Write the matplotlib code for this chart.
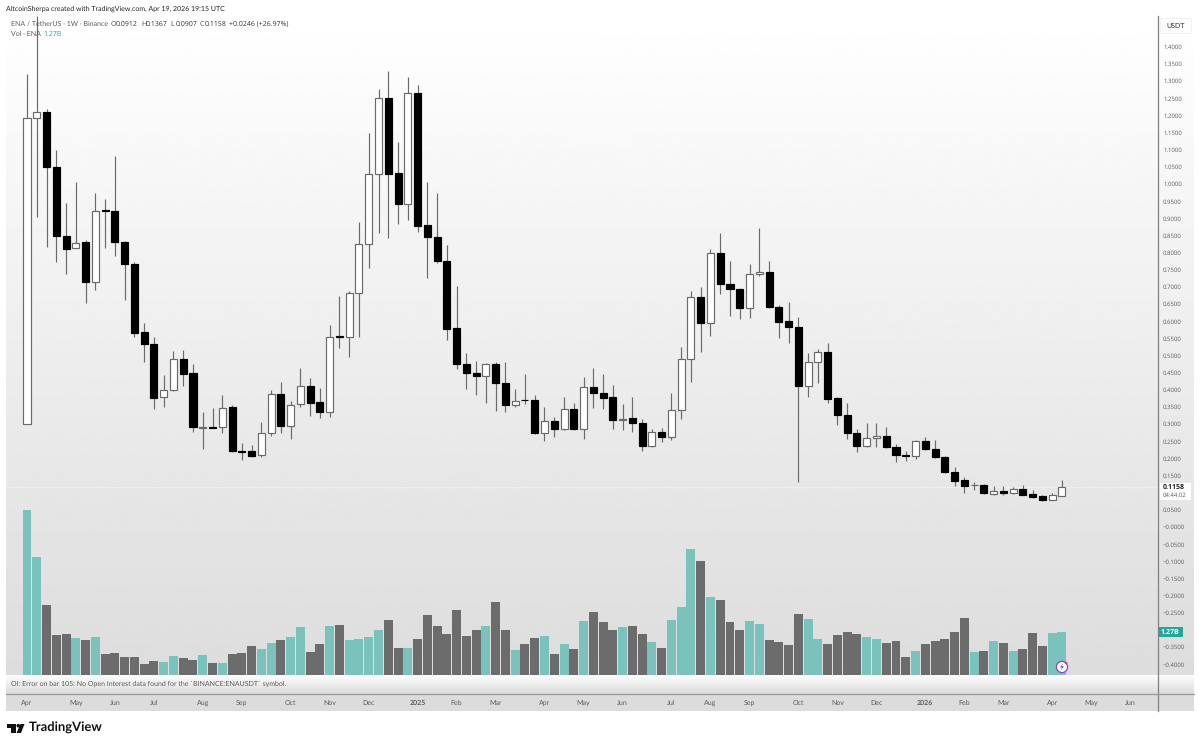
import numpy as np
import matplotlib
matplotlib.use('Agg')
import matplotlib.pyplot as plt
from matplotlib.patches import Polygon, Circle, Rectangle

plt.rcParams['font.family'] = ['Lato', 'DejaVu Sans']
plt.rcParams['text.hinting'] = 'no_hinting'
plt.rcParams['text.hinting_factor'] = 1

# weekly ENA / USDT candles
opens = [0.300, 1.192, 1.210, 1.050, 0.848, 0.813, 0.831, 0.714, 0.923, 0.921,
         0.831, 0.767, 0.569, 0.534, 0.379, 0.399, 0.490, 0.449, 0.290, 0.292,
         0.292, 0.350, 0.222, 0.222, 0.210, 0.274, 0.388, 0.294, 0.359, 0.411,
         0.364, 0.335, 0.556, 0.554, 0.682, 0.825, 1.029, 1.251, 1.032, 0.942,
         1.265, 0.880, 0.845, 0.776, 0.580, 0.475, 0.449, 0.440, 0.475, 0.420,
         0.356, 0.371, 0.370, 0.274, 0.309, 0.286, 0.344, 0.286, 0.408, 0.391,
         0.379, 0.312, 0.318, 0.303, 0.236, 0.277, 0.262, 0.341, 0.490, 0.671,
         0.595, 0.799, 0.708, 0.694, 0.638, 0.738, 0.743, 0.641, 0.600, 0.583,
         0.411, 0.481, 0.510, 0.376, 0.327, 0.274, 0.236, 0.259, 0.265, 0.233,
         0.210, 0.207, 0.251, 0.227, 0.204, 0.160, 0.137, 0.122, 0.122, 0.096,
         0.105, 0.099, 0.111, 0.096, 0.090, 0.079, 0.0912]
highs = [1.320, 1.490, 1.219, 1.100, 0.945, 1.006, 0.837, 0.974, 0.956, 1.082,
         0.835, 0.773, 0.595, 0.554, 0.443, 0.513, 0.516, 0.475, 0.335, 0.347,
         0.385, 0.356, 0.245, 0.239, 0.306, 0.399, 0.423, 0.367, 0.464, 0.434,
         0.405, 0.589, 0.673, 0.688, 0.889, 1.149, 1.277, 1.329, 1.122, 1.312,
         1.289, 1.006, 0.974, 0.822, 0.703, 0.507, 0.484, 0.478, 0.481, 0.481,
         0.402, 0.446, 0.385, 0.350, 0.321, 0.379, 0.362, 0.437, 0.464, 0.446,
         0.414, 0.359, 0.379, 0.315, 0.286, 0.289, 0.391, 0.525, 0.688, 0.700,
         0.810, 0.857, 0.776, 0.697, 0.767, 0.872, 0.776, 0.647, 0.656, 0.612,
         0.507, 0.519, 0.536, 0.379, 0.362, 0.286, 0.303, 0.303, 0.292, 0.242,
         0.222, 0.253, 0.262, 0.254, 0.206, 0.175, 0.146, 0.131, 0.125, 0.120,
         0.120, 0.117, 0.122, 0.108, 0.092, 0.100, 0.1367]
lows = [0.300, 0.904, 0.816, 0.773, 0.738, 0.813, 0.653, 0.691, 0.813, 0.790,
        0.662, 0.554, 0.481, 0.344, 0.350, 0.396, 0.411, 0.277, 0.227, 0.290,
        0.274, 0.220, 0.195, 0.204, 0.204, 0.265, 0.274, 0.257, 0.350, 0.324,
        0.318, 0.321, 0.522, 0.496, 0.554, 0.755, 0.857, 0.843, 0.883, 0.895,
        0.860, 0.726, 0.770, 0.545, 0.461, 0.402, 0.385, 0.362, 0.338, 0.335,
        0.350, 0.359, 0.270, 0.251, 0.262, 0.283, 0.283, 0.257, 0.347, 0.344,
        0.286, 0.283, 0.277, 0.222, 0.233, 0.248, 0.254, 0.315, 0.423, 0.510,
        0.557, 0.679, 0.615, 0.606, 0.609, 0.732, 0.638, 0.551, 0.536, 0.131,
        0.379, 0.420, 0.362, 0.297, 0.257, 0.219, 0.233, 0.233, 0.231, 0.190,
        0.193, 0.198, 0.225, 0.202, 0.158, 0.120, 0.099, 0.108, 0.097, 0.094,
        0.094, 0.096, 0.092, 0.086, 0.077, 0.078, 0.0907]
closes = [1.192, 1.210, 1.050, 0.848, 0.810, 0.828, 0.714, 0.921, 0.921, 0.831,
          0.767, 0.566, 0.534, 0.376, 0.399, 0.490, 0.446, 0.292, 0.292, 0.290,
          0.347, 0.222, 0.218, 0.207, 0.274, 0.388, 0.294, 0.356, 0.411, 0.362,
          0.335, 0.554, 0.554, 0.682, 0.825, 1.029, 1.251, 1.029, 0.942, 1.265,
          0.878, 0.845, 0.776, 0.577, 0.475, 0.449, 0.440, 0.475, 0.420, 0.356,
          0.367, 0.369, 0.274, 0.309, 0.286, 0.344, 0.286, 0.408, 0.391, 0.376,
          0.312, 0.315, 0.303, 0.236, 0.277, 0.262, 0.341, 0.490, 0.671, 0.595,
          0.799, 0.708, 0.694, 0.638, 0.738, 0.743, 0.641, 0.598, 0.583, 0.411,
          0.481, 0.510, 0.373, 0.327, 0.274, 0.236, 0.259, 0.265, 0.233, 0.210,
          0.208, 0.251, 0.227, 0.204, 0.160, 0.134, 0.120, 0.122, 0.099, 0.105,
          0.099, 0.111, 0.093, 0.087, 0.079, 0.092, 0.1158]

# volume in billions
volumes = [4.90, 3.49, 2.09, 1.19, 1.21, 1.11, 1.05, 1.13, 0.63, 0.65,
           0.54, 0.54, 0.32, 0.43, 0.39, 0.57, 0.51, 0.45, 0.59, 0.36,
           0.36, 0.63, 0.66, 0.86, 0.77, 0.94, 1.03, 1.14, 1.42, 0.68,
           0.91, 1.44, 1.47, 1.05, 1.07, 1.14, 1.35, 1.64, 0.79, 0.81,
           1.07, 1.79, 1.45, 1.21, 1.93, 1.15, 1.35, 1.45, 2.18, 1.35,
           0.74, 0.93, 1.09, 1.16, 0.63, 0.91, 0.77, 1.59, 1.87, 1.57,
           1.33, 1.41, 1.45, 1.21, 0.97, 0.79, 1.64, 2.02, 3.73, 3.39,
           2.30, 2.23, 1.56, 1.33, 1.59, 1.50, 1.05, 0.99, 0.89, 1.81,
           1.67, 1.08, 0.91, 1.19, 1.27, 1.22, 1.12, 1.07, 0.95, 1.00,
           0.54, 0.70, 0.92, 1.00, 1.07, 1.27, 1.70, 0.68, 0.70, 1.00,
           0.94, 0.70, 0.77, 1.25, 0.87, 1.26, 1.27]

time_ticks = [0, 5, 9, 13, 18, 22, 27, 31, 35, 40, 44, 48, 53, 57, 61, 66, 70, 74,
              79, 83, 87, 92, 96, 100, 105, 109, 113]
time_labels = ['Apr', 'May', 'Jun', 'Jul', 'Aug', 'Sep', 'Oct', 'Nov', 'Dec', '2025',
               'Feb', 'Mar', 'Apr', 'May', 'Jun', 'Jul', 'Aug', 'Sep', 'Oct', 'Nov',
               'Dec', '2026', 'Feb', 'Mar', 'Apr', 'May', 'Jun']
price_ticks = np.arange(-0.40, 1.401, 0.05)

W, H = 1200, 746
GRAY_TEXT = '#5c5c5c'
TEAL = '#7bc2bd'
VOL_GRAY = '#6c6c6c'
NUM_FONT = ['Open Sans', 'DejaVu Sans']


def px_axes(fig, left, top, right, bottom, **kw):
    return fig.add_axes([left / W, 1 - bottom / H, (right - left) / W, (bottom - top) / H], **kw)


def px_text(fig, x, y, s, **kw):
    kw.setdefault('va', 'center')
    kw.setdefault('fontsize', 5.1)
    kw.setdefault('color', GRAY_TEXT)
    return fig.text(x / W, 1 - y / H, s, **kw)


def gradient(ax, top, bottom):
    ramp = np.linspace(top, bottom, 256).reshape(-1, 1)
    ax.imshow(ramp, cmap='gray', vmin=0, vmax=1, aspect='auto', extent=[0, 1, 0, 1])
    ax.axis('off')


def price_label(v):
    # these two sit behind the last price and volume tags
    if abs(v - 0.10) < 1e-9 or abs(v + 0.30) < 1e-9:
        return ''
    if abs(v) < 1e-9:
        return '\u22120.0000'
    return f'{v:.4f}'.replace('-', '\u2212')


fig = plt.figure(figsize=(W / 100, H / 100), dpi=100, facecolor='white')

# backgrounds
gradient(px_axes(fig, 6, 16, 1194, 675), 1.0, 0.865)
gradient(px_axes(fig, 6, 675, 1194, 694), 1.0, 0.86)
strip = px_axes(fig, 6, 694, 1194, 711, facecolor='#dcdcdc')
strip.set_xticks([])
strip.set_yticks([])
for s in strip.spines.values():
    s.set_visible(False)

x = np.arange(len(opens))
x_min = (6 - 27) / 9.764
x_max = (1157 - 27) / 9.764
up = np.array(closes) >= np.array(opens)

# volume pane shares the plot area, zero on the bottom edge
ax_vol = px_axes(fig, 6, 16, 1157, 675)
ax_vol.patch.set_alpha(0)
ax_vol.bar(x, volumes, width=0.92, color=[TEAL if u else VOL_GRAY for u in up], linewidth=0)
ax_vol.set_xlim(x_min, x_max)
ax_vol.set_ylim(0, 659 / 33.7)
ax_vol.axis('off')

# candles
ax = px_axes(fig, 6, 16, 1157, 675)
ax.patch.set_alpha(0)
ax.set_xlim(x_min, x_max)
ax.set_ylim((527 - 675) / 343, (527 - 16) / 343)
ax.axhline(closes[-1], color='white', linewidth=0.5, alpha=0.45, zorder=1)
ax.vlines(x, lows, highs, color='#6a6a6a', linewidth=0.85, zorder=2)
bottoms = np.minimum(opens, closes)
heights = np.abs(np.array(closes) - np.array(opens))
ax.bar(x[up], heights[up], bottom=bottoms[up], width=0.72, facecolor='white',
       edgecolor='#6a6a6a', linewidth=0.85, zorder=3)
ax.bar(x[~up], heights[~up], bottom=bottoms[~up], width=0.72, facecolor='black',
       edgecolor='black', linewidth=0.85, zorder=3)

ax.set_xticks(time_ticks)
ax.set_xticklabels([])
ax.tick_params(axis='x', length=0)
ax.yaxis.tick_right()
ax.set_yticks(price_ticks)
ax.set_yticklabels([price_label(v) for v in price_ticks], fontsize=4.6, color=GRAY_TEXT,
                   family=NUM_FONT)
ax.tick_params(axis='y', length=0, pad=4.3)
for s in ax.spines.values():
    s.set_visible(False)

# time axis labels from the same x scale
for t, lab in zip(time_ticks, time_labels):
    px = 27 + 9.764 * t
    bold = lab in ('2025', '2026')
    px_text(fig, px, 702.5, lab, ha='center', fontsize=4.9,
            fontweight='bold' if bold else 'normal')

# separators
over = px_axes(fig, 0, 0, W, H)
over.set_xlim(0, W)
over.set_ylim(H, 0)
over.axis('off')
over.patch.set_alpha(0)
over.plot([1158, 1158], [16, 711], color='#808080', linewidth=0.9)
over.plot([6, 1194], [694, 694], color='#9a9a9a', linewidth=0.9)

# currency box, last price and volume tags
over.add_patch(Rectangle((1160, 18), 31, 15, facecolor='#fdfdfd', edgecolor='#f0f0f0', linewidth=0.6))
over.add_patch(Rectangle((1160, 483), 31, 17, facecolor='white', edgecolor='none'))
over.add_patch(Rectangle((1158.5, 627), 24.5, 10, facecolor='#26a69a', edgecolor='none'))
# alert badge on the last bar
over.add_patch(Circle((1062, 667), 5.6, facecolor='white', edgecolor='#8e44c4', linewidth=0.9))
over.add_patch(Polygon([(1063, 663.5), (1060, 667.5), (1062, 667.5), (1061, 670.5),
                        (1064, 666.3), (1062, 666.3)], facecolor='#8e44c4'))
over.add_patch(Circle((1066, 663), 1.3, facecolor='#e53935', edgecolor='none'))
# TradingView logo
over.add_patch(Polygon([(7, 724), (16, 724), (16, 733), (11, 733), (11, 727.5), (7, 727.5)],
                       facecolor='#111111'))
over.add_patch(Circle((18.3, 725.7), 1.8, facecolor='#111111', edgecolor='none'))
over.add_patch(Polygon([(20.5, 724), (24.5, 724), (21, 733), (16.5, 733)], facecolor='#111111'))

px_text(fig, 1163, 487.5, '0.1158', fontsize=4.7, color='#222222', fontweight='bold', family=NUM_FONT)
px_text(fig, 1163, 495, '04:44:02', fontsize=4.6, family=NUM_FONT)
px_text(fig, 1160.5, 632, '1.27B', fontsize=4.8, color='white', fontweight='bold', family=NUM_FONT)
px_text(fig, 1166, 26, 'USDT', fontsize=5.3, color='#333333')

# header and legends
px_text(fig, 6, 8.5, 'AltcoinSherpa created with TradingView.com, Apr 19, 2026 19:15 UTC',
        fontsize=5.3, color='#222222')
px_text(fig, 10.5, 24, 'ENA / TetherUS \u00b7 1W \u00b7 Binance')
for lx, prefix, val in [(111, 'O', '0.0912'), (141, 'H', '0.1367'),
                        (170.5, 'L', '0.0907'), (199.5, 'C', '0.1158')]:
    px_text(fig, lx, 24, prefix)
    px_text(fig, lx + 5, 24, val, color='#333333', fontsize=4.7, family=NUM_FONT)
px_text(fig, 229, 24, '+0.0246 (+26.97%)', color='#333333', fontsize=4.75, family=NUM_FONT)
px_text(fig, 10.5, 34, 'Vol \u00b7 ENA')
px_text(fig, 43.5, 34, '1.27B', color='#26a69a', fontsize=4.8, family=NUM_FONT)
px_text(fig, 10.5, 684, 'OI: Error on bar 105: No Open Interest data found for the '
        '`BINANCE:ENAUSDT` symbol.', fontsize=5.1)
px_text(fig, 29, 728, 'TradingView', fontsize=9.0, color='#111111', fontweight='bold')

fig.savefig('out.png', dpi=100)
